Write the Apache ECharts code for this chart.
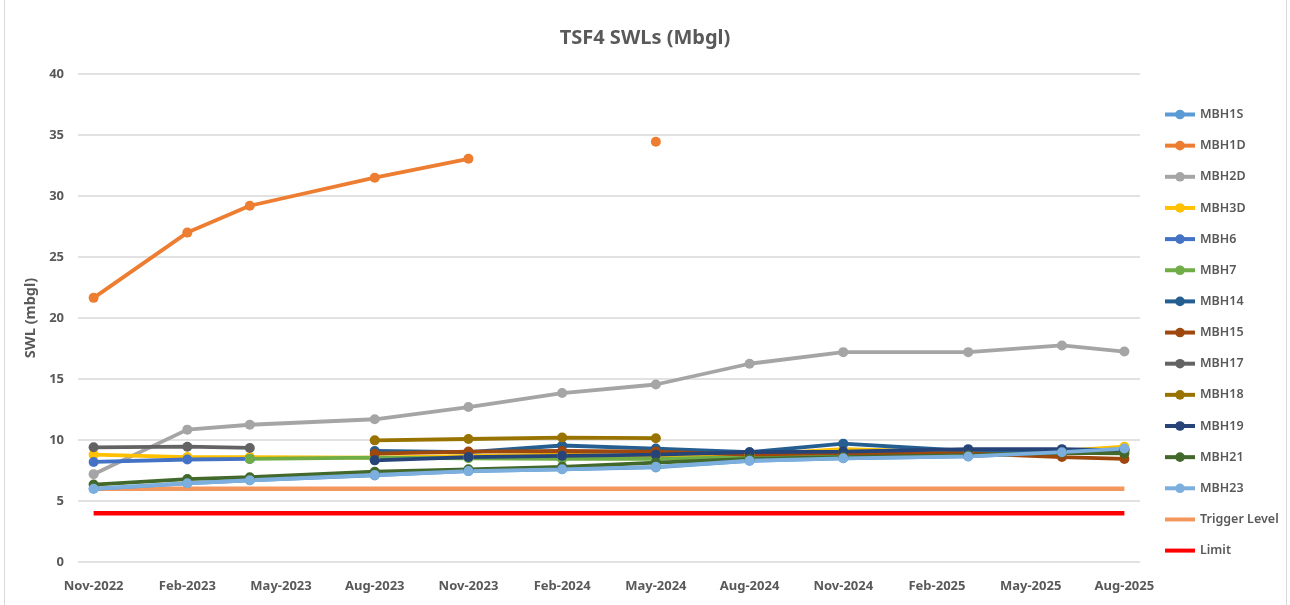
<!DOCTYPE html>
<html>
<head>
<meta charset="utf-8">
<script src="https://cdn.jsdelivr.net/npm/echarts@6/dist/echarts.min.js"></script>
<style>
  html, body { margin: 0; padding: 0; background: #fff; }
  #chart { width: 1290px; height: 605px; }
</style>
</head>
<body>
<div id="chart"></div>
<script>
// monthly axis, labels every 3rd month
var months = [];
var monthNames = ['Jan','Feb','Mar','Apr','May','Jun','Jul','Aug','Sep','Oct','Nov','Dec'];
for (var i = 0; i < 34; i++) {
    var m = (10 + i) % 12;
    var y = 2022 + Math.floor((10 + i) / 12);
    months.push(monthNames[m] + '-' + y);
}

// sampling dates
var dates = ['Nov-2022','Feb-2023','Apr-2023','Aug-2023','Nov-2023','Feb-2024','May-2024','Aug-2024','Nov-2024','Mar-2025','Jun-2025','Aug-2025'];

var mbh1s  = [6.0, 6.45, 6.7, 7.1, 7.45, 7.6, 7.75, 8.3, 8.5, 8.65, 9.0, 9.3];
var mbh1d  = [21.65, 27.0, 29.2, 31.5, 33.05, null, 34.45, null, null, null, null, null];
var mbh2d  = [7.2, 10.85, 11.25, 11.7, 12.7, 13.85, 14.55, 16.25, 17.2, 17.2, 17.75, 17.25];
var mbh3d  = [8.8, 8.6, 8.6, 8.55, 8.7, 8.8, 8.7, 8.8, 9.25, 9.0, 9.1, 9.45];
var mbh6   = [8.2, 8.4, 8.45, null, null, null, null, null, null, null, null, null];
var mbh7   = [null, null, 8.45, 8.55, 8.5, 8.45, 8.45, 8.6, 8.7, 8.8, 8.9, 9.1];
var mbh14  = [null, null, null, 9.1, 9.0, 9.55, 9.3, 9.0, 9.7, 9.1, 9.15, 9.2];
var mbh15  = [null, null, null, 8.88, 9.05, 9.1, 9.05, 8.8, 8.95, 8.9, 8.6, 8.45];
var mbh17  = [9.4, 9.45, 9.35, null, null, null, null, null, null, null, null, null];
var mbh18  = [null, null, null, 9.97, 10.08, 10.2, 10.15, null, null, null, null, null];
var mbh19  = [null, null, null, 8.33, 8.6, 8.7, 8.8, 9.0, 9.05, 9.25, 9.25, 9.15];
var mbh21  = [6.35, 6.8, 6.95, 7.4, 7.6, 7.8, 8.15, 8.45, 8.6, 8.75, 8.95, 8.9];
var mbh23  = [6.0, 6.45, 6.7, 7.13, 7.45, 7.6, 7.8, 8.3, 8.5, 8.65, 9.0, 9.3];
var triggerLevel = [6, 6, 6, 6, 6, 6, 6, 6, 6, 6, 6, 6];
var limit        = [4, 4, 4, 4, 4, 4, 4, 4, 4, 4, 4, 4];

var yTicks = [0, 5, 10, 15, 20, 25, 30, 35, 40];

var wells = [
    ['MBH1S', mbh1s, '#5B9BD5'],
    ['MBH1D', mbh1d, '#ED7D31'],
    ['MBH2D', mbh2d, '#A5A5A5'],
    ['MBH3D', mbh3d, '#FFC000'],
    ['MBH6', mbh6, '#4472C4'],
    ['MBH7', mbh7, '#70AD47'],
    ['MBH14', mbh14, '#255E91'],
    ['MBH15', mbh15, '#9E480E'],
    ['MBH17', mbh17, '#636363'],
    ['MBH18', mbh18, '#997300'],
    ['MBH19', mbh19, '#264478'],
    ['MBH21', mbh21, '#43682B'],
    ['MBH23', mbh23, '#7CAFDD']
];

function pairs(vals) {
    return dates.map(function (d, i) { return [d, vals[i]]; });
}

var series = wells.map(function (w) {
    return {
        name: w[0],
        type: 'line',
        data: pairs(w[1]),
        color: w[2],
        symbol: 'circle',
        symbolSize: 10,
        lineStyle: { width: 3.8 },
        connectNulls: false
    };
});
series.push({
    name: 'Trigger Level', type: 'line', data: pairs(triggerLevel), color: '#F4975F',
    symbol: 'none', lineStyle: { width: 4.5 }, z: 1
});
series.push({
    name: 'Limit', type: 'line', data: pairs(limit), color: '#FF0000',
    symbol: 'none', lineStyle: { width: 4.5 }, z: 1
});

var legendData = wells.map(function (w) { return w[0]; });
legendData.push({ name: 'Trigger Level', itemStyle: { opacity: 0 } });
legendData.push({ name: 'Limit', itemStyle: { opacity: 0 } });

var chart = echarts.init(document.getElementById('chart'));

var font = '"Noto Sans", sans-serif';

chart.setOption({
    animation: false,
    title: {
        text: 'TSF4 SWLs (Mbgl)',
        left: 'center',
        top: 23,
        textStyle: { fontFamily: font, fontSize: 20, fontWeight: 'bold', color: '#595959' }
    },
    graphic: [
        { type: 'line', shape: { x1: 4.5, y1: 0, x2: 4.5, y2: 605 }, style: { stroke: '#d9d9d9', lineWidth: 1 } },
        { type: 'line', shape: { x1: 1286.5, y1: 0, x2: 1286.5, y2: 605 }, style: { stroke: '#d9d9d9', lineWidth: 1 } }
    ],
    grid: { left: 78, right: 150, top: 74, bottom: 43 },
    legend: {
        orient: 'vertical',
        left: 1158,
        top: 103,
        itemWidth: 30,
        itemHeight: 12,
        itemGap: 18.15,
        lineStyle: { width: 4 },
        textStyle: { fontFamily: font, fontSize: 12.5, fontWeight: 600, color: '#595959' },
        data: legendData
    },
    xAxis: {
        type: 'category',
        data: months,
        boundaryGap: true,
        axisLine: { show: false },
        axisTick: { show: false },
        axisLabel: {
            interval: 2,
            margin: 18,
            fontFamily: font, fontSize: 13, fontWeight: 'bold', color: '#595959'
        }
    },
    yAxis: {
        type: 'value',
        min: yTicks[0],
        max: yTicks[yTicks.length - 1],
        interval: 5,
        name: 'SWL (mbgl)',
        nameLocation: 'middle',
        nameGap: 23,
        nameTextStyle: { fontFamily: font, fontSize: 14.5, fontWeight: 'bold', color: '#595959' },
        axisLabel: { fontFamily: font, fontSize: 13, fontWeight: 'bold', color: '#595959', margin: 14 },
        splitLine: { lineStyle: { color: '#d9d9d9', width: 1.5 } }
    },
    series: series
});
</script>
</body>
</html>
